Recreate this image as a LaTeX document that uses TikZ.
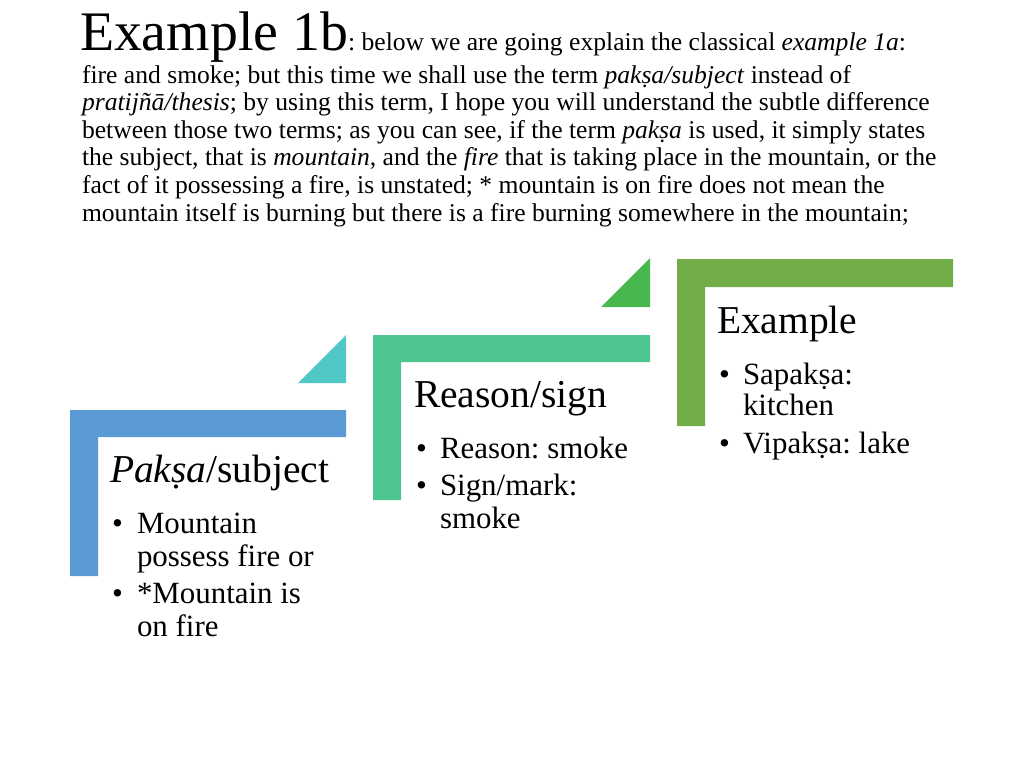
\documentclass[tikz,border=0pt]{standalone}
\usepackage{fontspec}
\setmainfont{Liberation Serif}
\frenchspacing
\definecolor{cblue}{HTML}{5B9BD5}
\definecolor{cteal}{HTML}{52C7C8}
\definecolor{csea}{HTML}{4EC690}
\definecolor{cgreen}{HTML}{48B84C}
\definecolor{colive}{HTML}{70AD47}
\newcommand{\bodyfs}{\fontsize{25.6}{27.6}\selectfont}
\newcommand{\headfs}{\fontsize{39.5}{44}\selectfont}
\newcommand{\itemfs}{\fontsize{30.9}{34}\selectfont}
\begin{document}
\begin{tikzpicture}[x=1pt,y=-1pt,
  txt/.style={anchor=base west,inner sep=0pt,outer sep=0pt},
  body/.style={txt,font=\bodyfs},
  head/.style={txt,font=\headfs},
  item/.style={txt,font=\itemfs}]
\useasboundingbox (0,0) rectangle (1024,768);
\fill[white] (0,0) rectangle (1024,768);
% title and paragraph
\node[txt] (title) at (80,50) {\fontsize{55.8}{60}\selectfont Example 1b};
\node[body] (l1) at (title.base east) {: below we are going explain the classical \textit{example 1a}:};
\node[body] (l2) at (82,83) {fire and smoke; but this time we shall use the term \textit{pakṣa/subject} instead of};
\node[body] (l3) at (82,110.6) {\textit{pratijñā/thesis}; by using this term, I hope you will understand the subtle difference};
\node[body] (l4) at (82,138.2) {between those two terms; as you can see, if the term \textit{pakṣa} is used, it simply states};
\node[body] (l5) at (82,165.8) {the subject, that is \textit{mountain}, and the \textit{fire} that is taking place in the mountain, or the};
\node[body] (l6) at (82,193.4) {fact of it possessing a fire, is unstated; * mountain is on fire does not mean the};
\node[body] (l7) at (82,221) {mountain itself is burning but there is a fire burning somewhere in the mountain;};
% shapes
\fill[cblue] (70,410) -- (346,410) -- (346,437) -- (98,437) -- (98,576) -- (70,576) -- cycle;
\fill[cteal] (298,383) -- (346,383) -- (346,335) -- cycle;
\fill[csea] (373,335) -- (650,335) -- (650,362) -- (401,362) -- (401,500) -- (373,500) -- cycle;
\fill[cgreen] (601,307) -- (650,307) -- (650,258) -- cycle;
\fill[colive] (677,259) -- (953,259) -- (953,287) -- (705,287) -- (705,426) -- (677,426) -- cycle;
% box 1
\node[head] (h1) at (110,482) {\textit{Pakṣa}/subject};
\node[item] (b1a) at (112,533) {•};
\node[item] (t1a) at (137,533) {Mountain};
\node[item] (t1b) at (137,566) {possess fire or};
\node[item] (b1b) at (112,603) {•};
\node[item] (t1c) at (137,603) {*Mountain is};
\node[item] (t1d) at (137,636) {on fire};
% box 2
\node[head] (h2) at (414,407) {Reason/sign};
\node[item] (b2a) at (416,458) {•};
\node[item] (t2a) at (440,458) {Reason: smoke};
\node[item] (b2b) at (416,495) {•};
\node[item] (t2b) at (440,495) {Sign/mark:};
\node[item] (t2c) at (440,528) {smoke};
% box 3
\node[head] (h3) at (717,333) {Example};
\node[item] (b3a) at (719,384) {•};
\node[item] (t3a) at (743,384) {Sapakṣa:};
\node[item] (t3b) at (743,415) {kitchen};
\node[item] (b3b) at (719,453) {•};
\node[item] (t3c) at (743,453) {Vipakṣa: lake};
\end{tikzpicture}
\end{document}
